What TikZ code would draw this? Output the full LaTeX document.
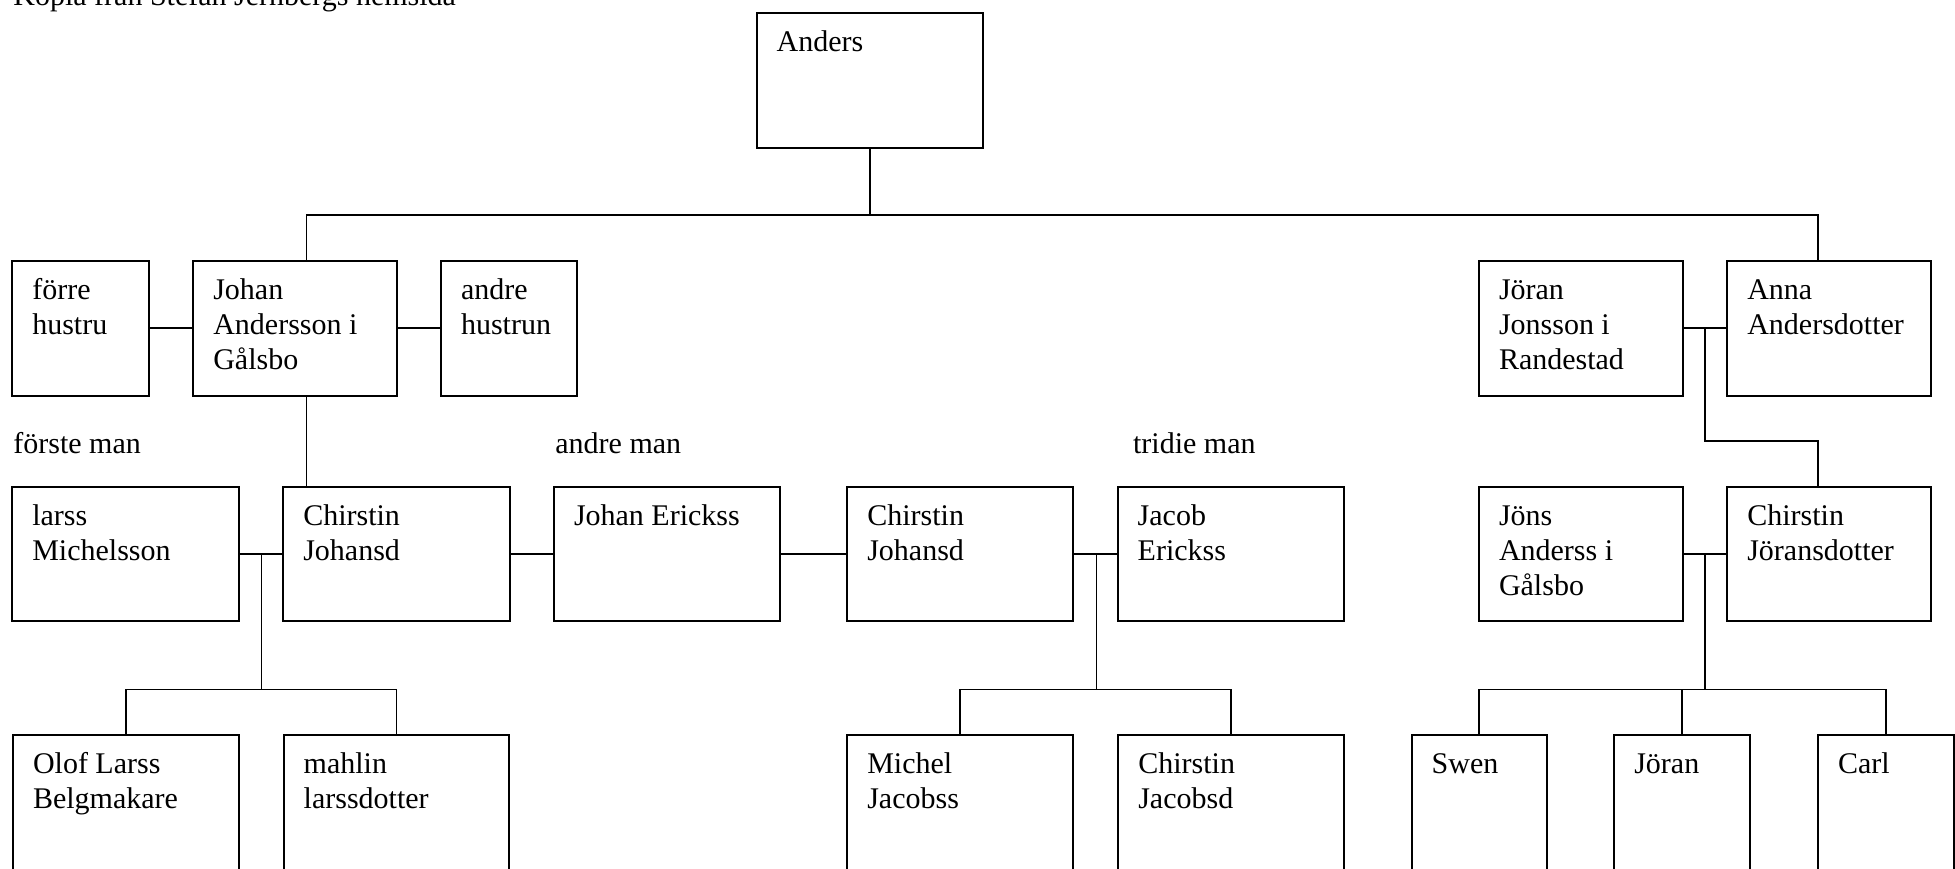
\documentclass[tikz,border=0pt]{standalone}
\usepackage{fontspec}
\setmainfont{Liberation Serif}
\newcommand\bxtext[3]{\parbox[t][\dimexpr(#2)/2\relax][t]{\dimexpr(#1)/2\relax}{\raggedright\leftskip=10pt\relax\vspace*{6.9pt}\strut #3}}
\newcommand\pbx[6]{\node[pbox] (#1) at (#2,#3) {\bxtext{#4pt-#2pt}{#5pt-#3pt}{#6}};}
\tikzset{
  pbox/.style={draw, line width=1pt, rectangle, inner sep=0pt, outer sep=0pt, anchor=north west},
  lbl/.style={inner sep=0pt, anchor=base west},
  conn/.style={line width=0.8pt}
}
\begin{document}
\begin{tikzpicture}[x=0.5pt, y=-0.5pt, font=\fontsize{15}{17.5}\selectfont]
\useasboundingbox (0,0) rectangle (1955,868);
\clip (0,0) rectangle (1955,868);
\fill[white] (0,0) rectangle (1955,868);

\node[lbl] (kopia) at (13,5) {Kopia från Stefan Jernbergs hemsida};

% top
\pbx{anders}{756.7}{12.7}{982.7}{147.7}{Anders}

% row 1
\pbx{forre}{12.3}{260.7}{148.7}{395.7}{förre\\hustru}
\pbx{johan}{193.3}{260.7}{396.7}{395.7}{Johan\\Andersson i\\Gålsbo}
\pbx{andre}{441}{260.7}{577.3}{395.7}{andre\\hustrun}
\pbx{joran}{1479}{260.7}{1682.7}{395.7}{Jöran\\Jonsson i\\Randestad}
\pbx{anna}{1727.3}{260.7}{1930.7}{395.7}{Anna\\Andersdotter}

% labels
\node[lbl] (forste) at (13,453.5) {förste man};
\node[lbl] (andreman) at (555,453.5) {andre man};
\node[lbl] (tridie) at (1132.7,453.5) {tridie man};

% row 2
\pbx{larss}{12.3}{486.7}{238.7}{621}{larss\\Michelsson}
\pbx{chra}{283.3}{486.7}{509.7}{621}{Chirstin\\Johansd}
\pbx{johe}{554}{486.7}{780.3}{621}{Johan Erickss}
\pbx{chrb}{847.3}{486.7}{1073.3}{621}{Chirstin\\Johansd}
\pbx{jacob}{1117.7}{486.7}{1344}{621}{Jacob\\Erickss}
\pbx{jons}{1479}{486.7}{1682.7}{621}{Jöns\\Anderss i\\Gålsbo}
\pbx{chrj}{1727.3}{486.7}{1930.7}{621}{Chirstin\\Jöransdotter}

% row 3 (cut off at bottom)
\pbx{olof}{13}{734.7}{238.7}{900}{Olof Larss\\Belgmakare}
\pbx{mahlin}{283.7}{734.7}{509.3}{900}{mahlin\\larssdotter}
\pbx{michel}{847.3}{734.7}{1073}{900}{Michel\\Jacobss}
\pbx{chrc}{1118.3}{734.7}{1344}{900}{Chirstin\\Jacobsd}
\pbx{swen}{1411.7}{734.7}{1546.7}{900}{Swen}
\pbx{joranb}{1614.3}{734.7}{1750}{900}{Jöran}
\pbx{carl}{1818}{734.7}{1953.7}{900}{Carl}

% junction coordinates
\coordinate (j1) at (306.3,215);
\coordinate (a1) at (1818,215);
\coordinate (k1) at (261.3,689.3);
\coordinate (k2) at (1096.3,689.3);
\coordinate (k3) at (1705,441);
\coordinate (k4) at (1705,689.3);

% connectors
\draw[conn] (anders.south) -- (anders.south |- j1);
\draw[conn] (j1 |- johan.north) -- (j1) -- (a1) -- (a1 |- anna.north);
\draw[conn] (forre.east) -- (johan.west);
\draw[conn] (johan.east) -- (andre.west);
\draw[conn] (j1 |- johan.south) -- (j1 |- chra.north);

\draw[conn] (larss.east) -- (chra.west);
\draw[conn] (k1 |- larss.east) -- (k1);
\draw[conn] (olof.north) |- (k1) -| (mahlin.north);

\draw[conn] (chra.east) -- (johe.west);
\draw[conn] (johe.east) -- (chrb.west);
\draw[conn] (chrb.east) -- (jacob.west);
\draw[conn] (k2 |- chrb.east) -- (k2);
\draw[conn] (michel.north) |- (k2) -| (chrc.north);

\draw[conn] (joran.east) -- (anna.west);
\draw[conn] (k3 |- joran.east) -- (k3) -| (a1 |- chrj.north);

\draw[conn] (jons.east) -- (chrj.west);
\draw[conn] (k4 |- jons.east) -- (k4);
\draw[conn] (swen.north) |- (k4) -| (carl.north);
\draw[conn] (joranb.north) -- (joranb.north |- k4);
\end{tikzpicture}
\end{document}
